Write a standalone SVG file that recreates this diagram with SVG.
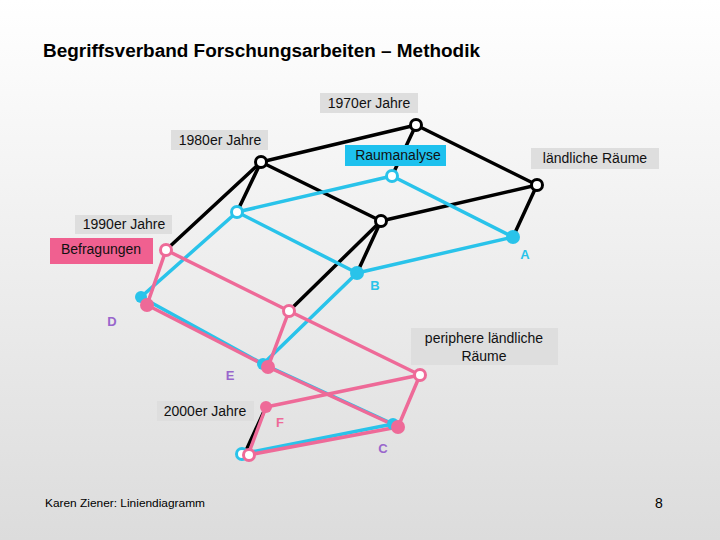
<svg xmlns="http://www.w3.org/2000/svg" width="720" height="540" viewBox="0 0 720 540">
<defs>
<linearGradient id="bg" x1="0" y1="0" x2="0" y2="1">
<stop offset="0" stop-color="#ffffff"/>
<stop offset="1" stop-color="#dcdcdc"/>
</linearGradient>
<style>
.t{font-family:"Liberation Sans",Arial,sans-serif;font-size:14px;fill:#111}
.lb{fill:#dedede}
.k{stroke:#000;stroke-width:3.5;fill:none;stroke-linecap:round}
.c{stroke:#29c3ea;stroke-width:3.5;fill:none;stroke-linecap:round}
.p{stroke:#ee6a98;stroke-width:3.5;fill:none;stroke-linecap:round}
.ok{fill:#fff;stroke:#000;stroke-width:3}
.oc{fill:#fff;stroke:#29c3ea;stroke-width:3}
.op{fill:#fff;stroke:#ee6a98;stroke-width:3}
.fc{fill:#29c3ea}
.fp{fill:#ee6a98}
.L{font-family:"Liberation Sans",Arial,sans-serif;font-size:13px;font-weight:bold}
</style>
</defs>
<rect width="720" height="540" fill="url(#bg)"/>
<text x="43" y="57" font-family="Liberation Sans,Arial,sans-serif" font-size="18" font-weight="bold" fill="#000" textLength="437" lengthAdjust="spacingAndGlyphs">Begriffsverband Forschungsarbeiten – Methodik</text>
<g id="connectors">
<line class="k" x1="416" y1="125" x2="261" y2="162"/>
<line class="k" x1="416" y1="125" x2="392" y2="176"/>
<line class="k" x1="416" y1="125" x2="537" y2="185"/>
<line class="k" x1="261" y1="162" x2="237" y2="212"/>
<line class="k" x1="261" y1="162" x2="166" y2="250"/>
<line class="k" x1="261" y1="162" x2="381" y2="221"/>
<line class="k" x1="537" y1="185" x2="381" y2="221"/>
<line class="k" x1="537" y1="185" x2="513" y2="237"/>
<line class="k" x1="381" y1="221" x2="357" y2="273"/>
<line class="k" x1="381" y1="221" x2="289" y2="311"/>
<line class="k" x1="266" y1="407" x2="244" y2="455"/>
<line class="c" x1="392" y1="176" x2="237" y2="212"/>
<line class="c" x1="392" y1="176" x2="513" y2="237"/>
<line class="c" x1="237" y1="212" x2="357" y2="273"/>
<line class="c" x1="513" y1="237" x2="357" y2="273"/>
<line class="c" x1="237" y1="212" x2="141" y2="297"/>
<line class="c" x1="357" y1="273" x2="263" y2="364"/>
<line class="c" x1="141" y1="297" x2="263" y2="364"/>
<line class="c" x1="263" y1="364" x2="393" y2="424"/>
<line class="c" x1="241" y1="454" x2="393" y2="424"/>
<line class="p" x1="166" y1="250" x2="147" y2="305"/>
<line class="p" x1="166" y1="250" x2="289" y2="311"/>
<line class="p" x1="289" y1="311" x2="268" y2="367"/>
<line class="p" x1="289" y1="311" x2="420" y2="375"/>
<line class="p" x1="147" y1="305" x2="268" y2="367"/>
<line class="p" x1="268" y1="367" x2="398" y2="427"/>
<line class="p" x1="420" y1="375" x2="398" y2="427"/>
<line class="p" x1="420" y1="375" x2="266" y2="407"/>
<line class="p" x1="266" y1="407" x2="248" y2="455"/>
<line class="p" x1="248" y1="455" x2="398" y2="427"/>
</g>
<g id="n1970"><rect class="lb" x="320" y="93" width="98" height="20"/><text class="t" x="369" y="108" text-anchor="middle">1970er Jahre</text><circle class="ok" cx="416" cy="125" r="5.5"/></g>
<g id="n1980"><rect class="lb" x="171" y="130" width="97" height="20"/><text class="t" x="220" y="145" text-anchor="middle">1980er Jahre</text><circle class="ok" cx="261" cy="162" r="5.5"/></g>
<g id="raumanalyse"><rect x="345" y="145" width="101" height="21" fill="#1ec1ee"/><text class="t" x="398" y="160" text-anchor="middle">Raumanalyse</text><circle class="oc" cx="392" cy="176" r="5.5"/></g>
<g id="laendliche"><rect class="lb" x="531" y="148" width="128" height="21"/><text class="t" x="595" y="163" text-anchor="middle">ländliche Räume</text><circle class="ok" cx="537" cy="185" r="5.5"/></g>
<g id="n1990"><rect class="lb" x="75" y="215" width="97" height="19"/><text class="t" x="124" y="229" text-anchor="middle">1990er Jahre</text><circle class="oc" cx="237" cy="212" r="5.5"/></g>
<g id="mid"><circle class="ok" cx="381" cy="221" r="5.5"/></g>
<g id="befragungen"><rect x="50" y="238" width="103" height="26" fill="#f06090"/><text class="t" x="101" y="254" text-anchor="middle">Befragungen</text><circle class="op" cx="166" cy="250" r="5.5"/></g>
<g id="A"><circle class="fc" cx="513" cy="237" r="7"/><text class="L" x="525" y="259" fill="#29c3ea" text-anchor="middle">A</text></g>
<g id="B"><circle class="fc" cx="357" cy="273" r="7"/><text class="L" x="375" y="290" fill="#29c3ea" text-anchor="middle">B</text></g>
<g id="D"><circle class="fc" cx="141" cy="297" r="6"/><circle class="fp" cx="147" cy="305" r="7"/><text class="L" x="112" y="326" fill="#9966cc" text-anchor="middle">D</text></g>
<g id="pmid"><circle class="op" cx="289" cy="311" r="5.5"/></g>
<g id="E"><circle class="fc" cx="263" cy="364" r="6"/><circle class="fp" cx="268" cy="367" r="7"/><text class="L" x="230" y="380" fill="#9966cc" text-anchor="middle">E</text></g>
<g id="periphere"><rect class="lb" x="411" y="328" width="147" height="37"/><text class="t" x="484" y="343" text-anchor="middle">periphere ländliche</text><text class="t" x="484" y="361" text-anchor="middle">Räume</text><circle class="op" cx="420" cy="375" r="5.5"/></g>
<g id="n2000"><rect class="lb" x="157" y="401" width="97" height="20"/><text class="t" x="205" y="416" text-anchor="middle">2000er Jahre</text></g>
<g id="F"><circle class="fp" cx="266" cy="407" r="6"/><text class="L" x="280" y="427" fill="#ee6a98" text-anchor="middle">F</text></g>
<g id="C"><circle class="fc" cx="393" cy="424" r="6"/><circle class="fp" cx="398" cy="427" r="7"/><text class="L" x="383" y="453" fill="#9966cc" text-anchor="middle">C</text></g>
<g id="bottom"><circle class="oc" cx="242" cy="454" r="5.5"/><circle class="op" cx="249" cy="455" r="5.5"/></g>
<text x="45" y="507" font-family="Liberation Sans,Arial,sans-serif" font-size="11.5" fill="#000" textLength="160" lengthAdjust="spacingAndGlyphs">Karen Ziener: Liniendiagramm</text>
<text x="655" y="508" font-family="Liberation Sans,Arial,sans-serif" font-size="14" fill="#000">8</text>
</svg>
